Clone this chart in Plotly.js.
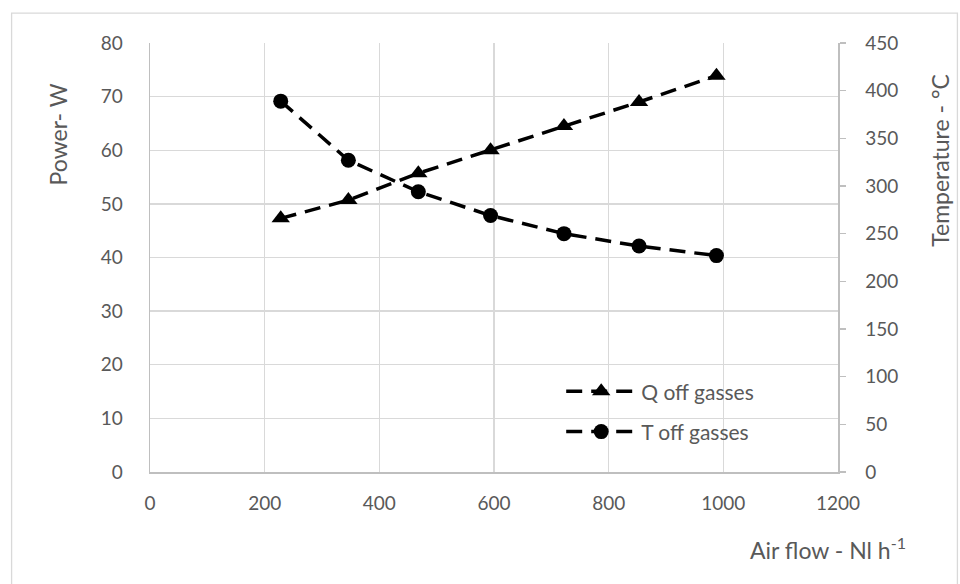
<!DOCTYPE html>
<html>
<head>
<meta charset="utf-8">
<script src="https://cdn.plot.ly/plotly-3.0.1.min.js"></script>
<style>
  html, body { margin: 0; padding: 0; background: #fff; }
  #chart { width: 960px; height: 584px; }
</style>
</head>
<body>
<div id="chart"></div>
<script>
// Data
const airFlow = [228, 346, 468, 594, 722, 853, 988];          // Nl h-1
const qOffGasses = [47.3, 50.7, 55.7, 60.0, 64.5, 69.0, 73.9]; // W (left axis)
const tOffGasses = [389, 327, 294, 269, 250, 237, 227];        // °C (right axis)
const xTicks = [0, 200, 400, 600, 800, 1000, 1200];
const yLeftTicks = [0, 10, 20, 30, 40, 50, 60, 70, 80];
const yRightTicks = [0, 50, 100, 150, 200, 250, 300, 350, 400, 450];
const seriesNames = ['Q off gasses', 'T off gasses'];

const txtColor = '#595959';
const gridColor = '#d9d9d9';
const axisColor = '#bfbfbf';
const fontFamily = 'Lato, "Open Sans", sans-serif';
const tickFont = { family: fontFamily, size: 19, color: txtColor, weight: 400 };
const titleFont = { family: fontFamily, size: 23, color: txtColor, weight: 400 };

const traces = [
  {
    x: airFlow, y: qOffGasses, name: seriesNames[0], yaxis: 'y',
    type: 'scatter', mode: 'lines+markers', legendgroup: 'a',
    line: { color: '#000', width: 3.5, dash: '16px,9px' },
    marker: { symbol: 'triangle-up', size: 16, color: '#000' }
  },
  {
    x: airFlow, y: tOffGasses, name: seriesNames[1], yaxis: 'y2',
    type: 'scatter', mode: 'lines+markers', legendgroup: 'b',
    line: { color: '#000', width: 3.5, dash: '16px,9px' },
    marker: { symbol: 'circle', size: 15, color: '#000' }
  }
];

// plot area in pixels: x 149.5..838, y 43.3..471.7
const L = 149.5, R = 838, T = 43.3, B = 471.7;
const W = R - L, H = B - T;
const px = v => (v - L) / W;
const py = v => (B - v) / H;

const layout = {
  width: 960, height: 584,
  margin: { l: L, r: 960 - R, t: T, b: 584 - B, pad: 0 },
  paper_bgcolor: '#fff', plot_bgcolor: '#fff',
  font: { family: fontFamily, size: 19, color: txtColor },
  showlegend: true,
  legend: {
    x: px(561), y: py(371), xanchor: 'left', yanchor: 'top',
    bgcolor: 'rgba(0,0,0,0)', borderwidth: 0,
    font: { family: fontFamily, size: 21, color: txtColor, weight: 400 },
    traceorder: 'grouped', tracegroupgap: 10, itemwidth: 70
  },
  xaxis: {
    range: [0, 1200], tickvals: xTicks, ticktext: xTicks.map(String),
    showgrid: true, gridcolor: gridColor, gridwidth: 1.3,
    showline: true, linecolor: axisColor, linewidth: 1.5,
    zeroline: false, ticks: '', ticklabelstandoff: 14,
    tickfont: tickFont
  },
  yaxis: {
    range: [0, 80], tickvals: yLeftTicks, ticktext: yLeftTicks.map(String),
    showgrid: true, gridcolor: gridColor, gridwidth: 1.3,
    showline: true, linecolor: axisColor, linewidth: 1.5,
    zeroline: false, ticks: '', ticklabelstandoff: 22,
    tickfont: tickFont
  },
  yaxis2: {
    range: [0, 450], tickvals: yRightTicks, ticktext: yRightTicks.map(String),
    overlaying: 'y', side: 'right', showgrid: false,
    showline: true, linecolor: axisColor, linewidth: 1.5,
    zeroline: false, ticks: 'outside', ticklen: 6, tickcolor: axisColor, tickwidth: 1.3,
    ticklabelstandoff: 16,
    tickfont: tickFont
  },
  shapes: [
    { type: 'rect', xref: 'paper', yref: 'paper', layer: 'below',
      x0: px(513), x1: px(808), y0: py(459), y1: py(372),
      fillcolor: '#fff', line: { width: 0 } },
    { type: 'rect', xref: 'paper', yref: 'paper', layer: 'above',
      x0: px(11), x1: px(957.5), y0: py(600), y1: py(13.5),
      fillcolor: 'rgba(0,0,0,0)', line: { color: gridColor, width: 1.3 } }
  ],
  annotations: [
    { text: 'Power- W', xref: 'paper', yref: 'paper', x: px(57), y: py(135),
      xanchor: 'center', yanchor: 'middle', textangle: -90, showarrow: false,
      font: titleFont },
    { text: 'Temperature - °C', xref: 'paper', yref: 'paper', x: px(940), y: py(160),
      xanchor: 'center', yanchor: 'middle', textangle: -90, showarrow: false,
      font: titleFont },
    { text: 'Air flow - Nl h<sup>-1</sup>', xref: 'paper', yref: 'paper', x: px(828), y: py(548),
      xanchor: 'center', yanchor: 'middle', showarrow: false,
      font: titleFont }
  ]
};

Plotly.newPlot('chart', traces, layout, { displayModeBar: false, staticPlot: true });
</script>
</body>
</html>
